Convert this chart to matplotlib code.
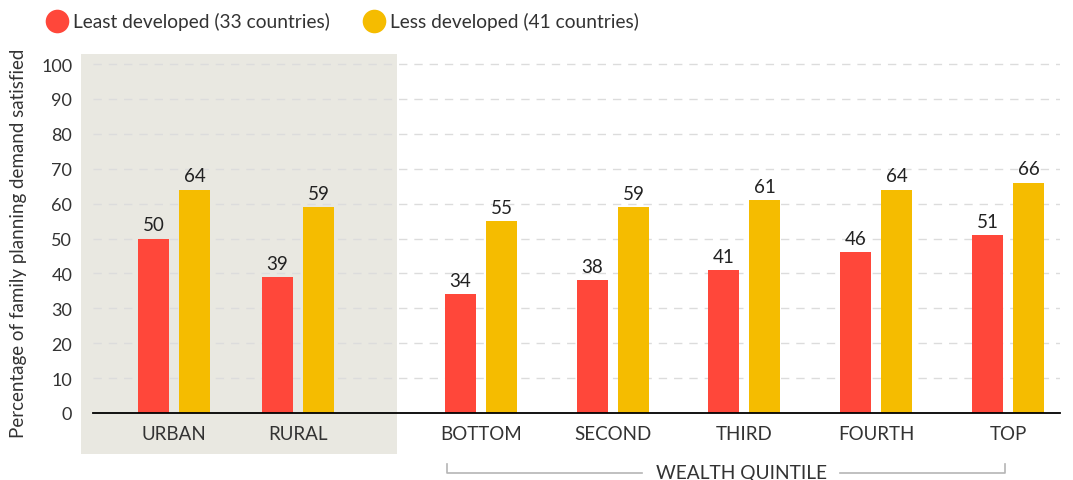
import matplotlib.pyplot as plt
import numpy as np
from matplotlib.patches import Rectangle
from matplotlib.lines import Line2D

plt.rcParams['font.family'] = ['Lato', 'DejaVu Sans']

# data
categories = ["URBAN", "RURAL", "BOTTOM", "SECOND", "THIRD", "FOURTH", "TOP"]
least_developed = [50, 39, 34, 38, 41, 46, 51]
less_developed = [64, 59, 55, 59, 61, 64, 66]
series_names = ["Least developed (33 countries)", "Less developed (41 countries)"]
yticks = list(range(0, 101, 10))

# layout (group centres, roughly pixel units)
centers = np.array([174, 298, 481, 613, 744, 876, 1008])
bar_w = 31
gap = 10

red = '#FF473A'
yellow = '#F5BC00'
shade = '#E9E8E1'
txt = '#333333'

W, H = 1073, 481
fig = plt.figure(figsize=(W / 100, H / 100), dpi=100)
ax_left, ax_right, ax_bottom, ax_top = 93, 1060, 67, 426
ax_w, ax_h = ax_right - ax_left, ax_top - ax_bottom
ax = fig.add_axes([ax_left / W, ax_bottom / H, ax_w / W, ax_h / H])
ax.set_facecolor('none')

# shaded box behind urban / rural
fig.patches.append(Rectangle((81 / W, (H - 455) / H), (397 - 81) / W, (455 - 55) / H,
                             transform=fig.transFigure, facecolor=shade, edgecolor='none', zorder=-10))

ax.set_xlim(ax_left, ax_right)
ax.set_ylim(0, 100 * ax_h / (414 - 65))

off = (bar_w + gap) / 2
ax.bar(centers - off, least_developed, width=bar_w, color=red, zorder=3)
ax.bar(centers + off, less_developed, width=bar_w, color=yellow, zorder=3)

for c, a, b in zip(centers, least_developed, less_developed):
    ax.text(c - off, a + 1.5, str(a), ha='center', va='bottom', fontsize=13.5, color='#222222')
    ax.text(c + off, b + 1.5, str(b), ha='center', va='bottom', fontsize=13.5, color='#222222')

ax.set_yticks(yticks)
ax.set_yticklabels([str(t) for t in yticks], fontsize=13, color=txt)
ax.set_xticks(centers)
ax.set_xticklabels(categories, fontsize=13.5, color=txt)
ax.tick_params(axis='both', length=0)
ax.tick_params(axis='y', pad=15)
ax.tick_params(axis='x', pad=9)

ax.yaxis.grid(True, linestyle=(0, (6, 5)), color='#dcdcdc', linewidth=1, zorder=0)
ax.set_axisbelow(True)
for s in ['top', 'right', 'left']:
    ax.spines[s].set_visible(False)
ax.spines['bottom'].set_color('black')
ax.spines['bottom'].set_linewidth(1.3)
ax.spines['bottom'].set_zorder(4)

ax.set_ylabel("Percentage of family planning demand satisfied", fontsize=13.5, color=txt)
ax.yaxis.set_label_coords((27 - ax_left) / ax_w, (H - 243 - ax_bottom) / ax_h)

# wealth quintile bracket
ybr = -(474 - 414) / ax_h
ytk = -(465 - 414) / ax_h
tr = ax.get_xaxis_transform()
bc = '#b5b5b5'
ax.plot([447, 447, 642], [ytk, ybr, ybr], color=bc, lw=1.2, transform=tr, clip_on=False)
ax.plot([840, 1005, 1005], [ybr, ybr, ytk], color=bc, lw=1.2, transform=tr, clip_on=False)
ax.text(742, ybr, "WEALTH QUINTILE", transform=tr, ha='center', va='center', fontsize=13.8, color=txt)

# legend
for (cx, tx), name, col in zip([(57, 73), (374, 390)], series_names, [red, yellow]):
    fig.add_artist(Line2D([cx / W], [(H - 22) / H], marker='o', markersize=17, color=col,
                          markeredgewidth=0, transform=fig.transFigure))
    fig.text(tx / W, (H - 22) / H, name, ha='left', va='center', fontsize=13.8, color=txt)

fig.savefig("out.png", dpi=100)
